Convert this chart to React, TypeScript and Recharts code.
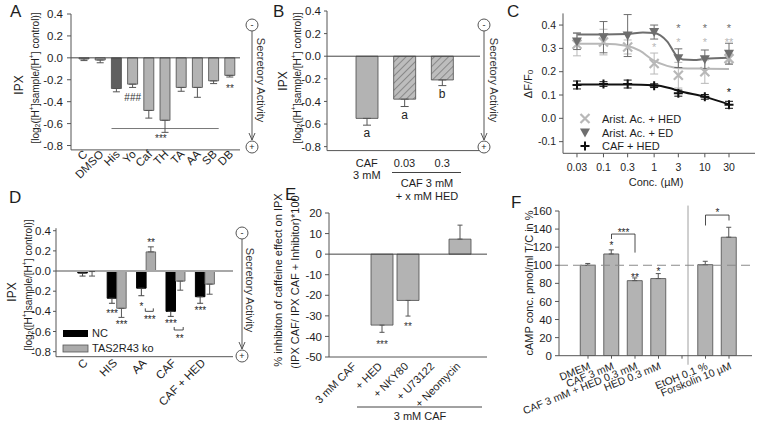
import React from 'react'
import {
  BarChart, Bar, XAxis, YAxis, ErrorBar, ReferenceLine, ReferenceDot, Cell,
  ComposedChart, Line, Scatter,
} from 'recharts'

const FONT = '"Liberation Sans", Arial, sans-serif'
const INK = '#1e1e1e'
const AXIS = '#555'
const BAR = '#b3b3b3'
const EDGE = '#4a4a4a'
const LIGHT = '#b8b8b8'
const DARK = '#6e6e6e'

// A: IPX of single bitter compounds
const aNames = ['C', 'DMSO', 'His', 'Yo', 'Caf', 'TH', 'TA', 'AA', 'SB', 'DB']
const aIpx = [-0.01, -0.02, -0.28, -0.24, -0.48, -0.57, -0.27, -0.27, -0.21, -0.16]
const aSem = [0.015, 0.025, 0.03, 0.03, 0.07, 0.11, 0.035, 0.09, 0.025, 0.015]

// B: caffeine +/- homoeriodictyol
const bNames = ['CAF', '0.03', '0.3']
const bSub = ['3 mM', '', '']
const bIpx = [-0.55, -0.38, -0.21]
const bSem = [0.06, 0.065, 0.05]
const bLetters = ['a', 'a', 'b']

// C: calcium imaging, dose response
const cConc = [0.03, 0.1, 0.3, 1, 3, 10, 30]
const cAaHed = [0.318, 0.327, 0.306, 0.235, 0.185, 0.2, 0.256]
const cAaHedSem = [0.05, 0.055, 0.03, 0.045, 0.055, 0.05, 0.02]
const cAaEd = [0.33, 0.348, 0.355, 0.37, 0.258, 0.253, 0.277]
const cAaEdSem = [0.035, 0.067, 0.09, 0.03, 0.04, 0.04, 0.045]
const cCafHed = [0.143, 0.147, 0.147, 0.14, 0.108, 0.092, 0.058]
const cCafHedSem = [0.017, 0.01, 0.017, 0.008, 0.013, 0.01, 0.015]
// fitted curves
const cFitAaHedX = [0.03, 0.1, 0.3, 0.52, 0.95, 1.8, 3.2, 10, 30]
const cFitAaHedY = [0.32, 0.32, 0.31, 0.29, 0.25, 0.225, 0.215, 0.213, 0.212]
const cFitAaEdX = [0.03, 0.1, 0.3, 0.6, 1, 1.8, 2.8, 3.7, 6, 10, 30]
const cFitAaEdY = [0.36, 0.36, 0.362, 0.368, 0.366, 0.33, 0.267, 0.252, 0.25, 0.255, 0.26]
const cFitCafX = [0.03, 0.3, 1, 2, 3, 10, 30]
const cFitCafY = [0.145, 0.145, 0.142, 0.13, 0.118, 0.092, 0.06]

// D: NC vs TAS2R43 knock-out
const dNames = ['C', 'HIS', 'AA', 'CAF', 'CAF + HED']
const dNc = [-0.02, -0.27, -0.17, -0.4, -0.255]
const dNcSem = [0.03, 0.05, 0.075, 0.05, 0.065]
const dKo = [-0.005, -0.37, 0.19, -0.1, -0.13]
const dKoSem = [0.045, 0.09, 0.05, 0.09, 0.1]

// E: inhibitors
const eNames = ['3 mM CAF', '+ HED', '+ NKY80', '+ U73122', '+ Neomycin']
const eInhib = [0, -34.5, -22.5, 0, 7.3]
const eSem = [5.7, 3.5, 7.6, 3.9, 6.8]

// F: cAMP
const fNames = ['DMEM', 'CAF 3 mM', 'CAF 3 mM + HED 0.3 mM', 'HED 0.3 mM', '', 'EtOH 0.1 %', 'Forskolin 10 µM']
const fCamp = [100, 112.5, 83, 85.3, null, 100.7, 131]
const fSem = [2, 4.5, 3, 5.5, null, 3.7, 11]

const ipxTicks = [-0.8, -0.6, -0.4, -0.2, 0, 0.2, 0.4]
const f1 = (v: number) => v.toFixed(1)
const oneSided = (v: number | null, e: number | null) =>
  v == null || e == null ? null : v < 0 ? [e, 0] : [0, e]

// text mark centred on a data point (category or number), optional pixel shift
function note(key: string, x: any, y: number, text: string, color = INK, size = 10, dx = 0) {
  const lift = text.includes('*') ? 0.6 : 0.36
  return (
    <ReferenceDot key={key} x={x} y={y} r={0} ifOverflow="visible"
      shape={(p: any) => (
        <text x={p.cx + dx} y={p.cy + lift * size} textAnchor="middle" fontSize={size} fill={color}>{text}</text>
      )} />
  )
}

function seg(key: string, x1: any, y1: number, x2: any, y2: number, color = INK, grow = 0, dx = 0) {
  return (
    <ReferenceLine key={key} segment={[{ x: x1, y: y1 }, { x: x2, y: y2 }]} ifOverflow="visible"
      shape={(p: any) => (
        <line x1={p.x1 - grow + dx} y1={p.y1} x2={p.x2 + grow + dx} y2={p.y2} stroke={color} strokeWidth={0.8} />
      )} />
  )
}

// small bracket under a pair of bars inside one group
function pairBracket(key: string, x: string, y: number, half: number, leg: number, dx = 0) {
  return (
    <ReferenceDot key={key} x={x} y={y} r={0} ifOverflow="visible"
      shape={(p: any) => (
        <path d={`M${p.cx + dx - half},${p.cy - leg}V${p.cy}H${p.cx + dx + half}V${p.cy - leg}`}
          stroke={INK} strokeWidth={0.8} fill="none" />
      )} />
  )
}

const slant = (angle: number, dx: number, dy: number, size: number) => (p: any) => (
  <text transform={`translate(${p.x + dx},${p.y + dy}) rotate(${angle})`} textAnchor="end"
    fontSize={size} fill={INK}>{p.payload.value}</text>
)

const yTick = (size: number) => ({ fontSize: size, fill: INK })

function PanelA() {
  const data = aNames.map((name, i) => ({ name, v: aIpx[i], err: oneSided(aIpx[i], aSem[i]) }))
  return (
    <BarChart width={250} height={205} data={data} margin={{ top: 14, right: 10, bottom: 0, left: 0 }} barSize={10}>
      <XAxis dataKey="name" interval={0} height={55.1} padding={{ left: 5, right: 2 }} axisLine={{ stroke: AXIS }}
        tickLine={false} tick={slant(-45, 4, -3, 11.5)} />
      <YAxis width={71} domain={[-0.84, 0.4]} ticks={ipxTicks} allowDataOverflow tickFormatter={f1}
        tick={yTick(11.5)} tickSize={4} tickMargin={4} axisLine={{ stroke: AXIS }} tickLine={{ stroke: AXIS }} />
      <ReferenceLine y={0} stroke="#444" />
      <Bar dataKey="v" isAnimationActive={false} stroke={EDGE} strokeWidth={0.8}>
        {data.map(d => <Cell key={d.name} fill={d.name === 'His' ? '#5f5f5f' : BAR} />)}
        <ErrorBar dataKey="err" width={3.5} stroke="#555" strokeWidth={1} />
      </Bar>
      {note('a1', 'Yo', -0.36, '###', '#333', 10)}
      {note('a2', 'DB', -0.255, '**', '#333', 10)}
      {seg('a3', 'His', -0.645, 'SB', -0.645, '#555', 5)}
      {note('a4', 'Caf', -0.71, '***', '#333', 10, 12)}
    </BarChart>
  )
}

function PanelB() {
  const data = bNames.map((name, i) => ({ name, v: bIpx[i], err: oneSided(bIpx[i], bSem[i]) }))
  const tick = (p: any) => (
    <text x={p.x} y={p.y + 8.5} textAnchor="middle" fontSize={11} fill={INK}>
      <tspan x={p.x}>{p.payload.value}</tspan>
      {bSub[p.index] ? <tspan x={p.x} dy={12}>{bSub[p.index]}</tspan> : null}
    </text>
  )
  return (
    <BarChart width={250} height={205} data={data} margin={{ top: 11, right: 20, bottom: 0, left: 0 }} barSize={22}>
      <defs>
        <pattern id="hatch" patternUnits="userSpaceOnUse" width="5" height="5" patternTransform="rotate(45)">
          <rect width="5" height="5" fill="#bdbdbd" />
          <line x1="0" y1="0" x2="0" y2="5" stroke="#555" strokeWidth="1" />
        </pattern>
      </defs>
      <XAxis dataKey="name" interval={0} height={54.4} padding={{ left: 21, right: 19 }} axisLine={{ stroke: AXIS }}
        tickLine={false} tick={tick} />
      <YAxis width={77} domain={[-0.835, 0.4]} ticks={ipxTicks} allowDataOverflow tickFormatter={f1}
        tick={yTick(11.5)} tickSize={3} tickMargin={3} axisLine={{ stroke: AXIS }} tickLine={{ stroke: AXIS }} />
      <ReferenceLine y={0} stroke="#444" />
      <Bar dataKey="v" isAnimationActive={false} stroke={EDGE} strokeWidth={0.8}>
        {data.map((d, i) => <Cell key={d.name} fill={i === 0 ? BAR : 'url(#hatch)'} />)}
        <ErrorBar dataKey="err" width={4} stroke="#555" strokeWidth={1} />
      </Bar>
      {bLetters.map((t, i) => note('b' + i, bNames[i], bIpx[i] - bSem[i] - 0.07, t, INK, 12))}
    </BarChart>
  )
}

const XMark = ({ cx, cy, c }: any) => (
  <path d={`M${cx - 4.5},${cy - 4.5}L${cx + 4.5},${cy + 4.5}M${cx - 4.5},${cy + 4.5}L${cx + 4.5},${cy - 4.5}`}
    stroke={c} strokeWidth={2.2} fill="none" />
)
const TriMark = ({ cx, cy, c }: any) => (
  <path d={`M${cx - 5},${cy - 4}L${cx + 5},${cy - 4}L${cx},${cy + 5}Z`} fill={c} />
)
const PlusMark = ({ cx, cy, c }: any) => (
  <path d={`M${cx - 4.5},${cy}H${cx + 4.5}M${cx},${cy - 4.5}V${cy + 4.5}`} stroke={c} strokeWidth={2} fill="none" />
)

function PanelC() {
  const pts = (ys: number[], es: number[]) => cConc.map((x, i) => ({ x, y: ys[i], e: es[i] }))
  const fit = (xs: number[], ys: number[]) => xs.map((x, i) => ({ x, y: ys[i] }))
  return (
    <ComposedChart width={257} height={205} margin={{ top: 13.4, right: 2, bottom: 0, left: 0 }}>
      <XAxis dataKey="x" type="number" scale="log" domain={[0.0159, 97.7]} allowDataOverflow ticks={cConc}
        tickFormatter={(v: number) => String(v)} height={51.7} interval={0}
        tick={yTick(10.5)} tickSize={4} tickMargin={6} axisLine={{ stroke: AXIS }} tickLine={{ stroke: AXIS }} />
      <YAxis type="number" domain={[-0.15, 0.45]} allowDataOverflow ticks={[-0.1, 0, 0.1, 0.2, 0.3, 0.4]}
        tickFormatter={f1} width={63} tick={yTick(10.5)} tickSize={4} tickMargin={3}
        axisLine={{ stroke: AXIS }} tickLine={{ stroke: AXIS }} />
      <Line data={fit(cFitAaHedX, cFitAaHedY)} dataKey="y" type="monotone" stroke={LIGHT} strokeWidth={2}
        dot={false} isAnimationActive={false} />
      <Line data={fit(cFitAaEdX, cFitAaEdY)} dataKey="y" type="monotone" stroke={DARK} strokeWidth={2}
        dot={false} isAnimationActive={false} />
      <Line data={fit(cFitCafX, cFitCafY)} dataKey="y" type="monotone" stroke="#111" strokeWidth={2}
        dot={false} isAnimationActive={false} />
      <Scatter data={pts(cAaHed, cAaHedSem)} dataKey="y" isAnimationActive={false}
        shape={(p: any) => <XMark cx={p.cx} cy={p.cy} c={LIGHT} />}>
        <ErrorBar dataKey="e" direction="y" width={4} stroke={LIGHT} strokeWidth={1} />
      </Scatter>
      <Scatter data={pts(cAaEd, cAaEdSem)} dataKey="y" isAnimationActive={false}
        shape={(p: any) => <TriMark cx={p.cx} cy={p.cy} c={DARK} />}>
        <ErrorBar dataKey="e" direction="y" width={4} stroke={DARK} strokeWidth={1} />
      </Scatter>
      <Scatter data={pts(cCafHed, cCafHedSem)} dataKey="y" isAnimationActive={false}
        shape={(p: any) => <PlusMark cx={p.cx} cy={p.cy} c="#111" />}>
        <ErrorBar dataKey="e" direction="y" width={4} stroke="#111" strokeWidth={1} />
      </Scatter>
      {note('c1', 1, 0.318, '*', LIGHT, 11)}
      {[3, 10, 30].map(x => note('cd' + x, x, 0.4, '*', DARK, 11))}
      {[3, 10].map(x => note('cl' + x, x, 0.337, '*', LIGHT, 11))}
      {note('cl30', 30, 0.337, '**', LIGHT, 11)}
      {note('cb30', 30, 0.122, '*', '#111', 11)}
    </ComposedChart>
  )
}

function PanelD() {
  const data = dNames.map((name, i) => ({
    name, nc: dNc[i], ko: dKo[i],
    ncErr: oneSided(dNc[i], dNcSem[i]), koErr: oneSided(dKo[i], dKoSem[i]),
  }))
  return (
    <BarChart width={250} height={217} data={data} margin={{ top: 23.2, right: 17, bottom: 0, left: 0 }}
      barSize={9.5} barGap={0}>
      <XAxis dataKey="name" interval={0} height={65.3} padding={{ left: 16.8, right: 13.2 }} axisLine={{ stroke: AXIS }}
        tickLine={false} tick={slant(-45, 1, -1, 11.5)} />
      <YAxis width={56} domain={[-0.85, 0.425]} ticks={ipxTicks} allowDataOverflow tickFormatter={f1}
        tick={yTick(11.5)} tickSize={3} tickMargin={2} axisLine={{ stroke: AXIS }} tickLine={{ stroke: AXIS }} />
      <ReferenceLine y={0} stroke="#a8a8a8" strokeWidth={2} />
      <Bar dataKey="nc" fill="#000" stroke="#000" isAnimationActive={false}>
        <ErrorBar dataKey="ncErr" width={3} stroke="#444" strokeWidth={1} />
      </Bar>
      <Bar dataKey="ko" fill="#ababab" stroke="#555" strokeWidth={0.8} isAnimationActive={false}>
        <ErrorBar dataKey="koErr" width={3} stroke="#555" strokeWidth={1} />
      </Bar>
      {note('d1', 'HIS', -0.4, '***', INK, 10, -4.75)}
      {note('d2', 'HIS', -0.51, '***', INK, 10, 4.75)}
      {note('d3', 'AA', -0.33, '*', INK, 10, -4.75)}
      {note('d4', 'AA', 0.31, '**', INK, 10, 4.75)}
      {pairBracket('d5', 'AA', -0.4, 4, 3, 3)}
      {note('d6', 'AA', -0.455, '***', INK, 10, 3.5)}
      {note('d7', 'CAF', -0.5, '***', INK, 10, -4.75)}
      {pairBracket('d8', 'CAF', -0.585, 4.5, 3, 3)}
      {note('d9', 'CAF', -0.64, '**', INK, 10, 4)}
      {note('d10', 'CAF + HED', -0.37, '***', INK, 10, -4.75)}
    </BarChart>
  )
}

function PanelE() {
  const data = eNames.map((name, i) => ({ name, v: eInhib[i], err: oneSided(eInhib[i], eSem[i]) }))
  return (
    <BarChart width={250} height={217} data={data} margin={{ top: 8, right: 13, bottom: 0, left: 0 }} barSize={22}>
      <XAxis dataKey="name" interval={0} height={65} padding={{ left: 14, right: 14 }} axisLine={{ stroke: AXIS }}
        tickLine={false} tick={slant(-45, 1, 2, 11)} />
      <YAxis width={79} domain={[-50, 20]} ticks={[-50, -40, -30, -20, -10, 0, 10, 20]} allowDataOverflow
        tick={yTick(11.5)} tickSize={4} tickMargin={3} axisLine={{ stroke: AXIS }} tickLine={{ stroke: AXIS }} />
      <ReferenceLine y={0} stroke="#444" />
      <Bar dataKey="v" fill={BAR} stroke={EDGE} strokeWidth={0.8} isAnimationActive={false}>
        <ErrorBar dataKey="err" width={2.5} stroke="#555" strokeWidth={1} />
      </Bar>
      {note('e1', '+ HED', -42.6, '***', '#333', 10)}
      {note('e2', '+ NKY80', -34.1, '**', '#333', 10)}
    </BarChart>
  )
}

function PanelF() {
  const data = fNames.map((name, i) => ({ name, v: fCamp[i], err: oneSided(fCamp[i], fSem[i]) }))
  const [dm, caf, cafHed, hed, gap, etoh, fsk] = fNames
  return (
    <BarChart width={257} height={217} data={data} margin={{ top: 6, right: 5, bottom: 0, left: 0 }} barSize={15}>
      <XAxis dataKey="name" interval={0} height={66.3} padding={{ left: 17.25, right: 11.25 }} axisLine={{ stroke: AXIS }}
        tickLine={{ stroke: AXIS }} tickSize={3} tick={slant(-22, 3, 8, 10.5)} />
      <YAxis width={59} domain={[0, 160]} ticks={[0, 20, 40, 60, 80, 100, 120, 140, 160]} allowDataOverflow
        tick={yTick(11.5)} tickSize={4} tickMargin={3} axisLine={{ stroke: AXIS }} tickLine={{ stroke: AXIS }} />
      <Bar dataKey="v" fill={BAR} stroke={EDGE} strokeWidth={0.8} isAnimationActive={false}>
        <ErrorBar dataKey="err" width={2.5} stroke="#555" strokeWidth={1} />
      </Bar>
      <ReferenceLine y={100} stroke="#8a8a8a" strokeDasharray="9 5" strokeWidth={1} />
      {seg('fsep', gap, 166, gap, -10, '#888', 0, 6)}
      {note('f1', caf, 125, '*')}
      {note('f2', cafHed, 89, '**')}
      {note('f3', hed, 96, '*')}
      {seg('f4h', caf, 134.5, cafHed, 134.5)}
      {seg('f4l', caf, 134.5, caf, 129)}
      {seg('f4r', cafHed, 134.5, cafHed, 114)}
      {note('f5', caf, 139.5, '***', INK, 10, 12)}
      {seg('f6h', etoh, 155.5, fsk, 155.5)}
      {seg('f6l', etoh, 155.5, etoh, 144)}
      {seg('f6r', fsk, 155.5, fsk, 149.5)}
      {note('f7', etoh, 161, '*', INK, 10, 12)}
      {dm ? null : null}
    </BarChart>
  )
}

const Pos = ({ l, t, children }: any) => (
  <div style={{ position: 'absolute', left: l, top: t }}>{children}</div>
)

function RotLabel({ x, y, size, children }: any) {
  return (
    <text transform={`translate(${x},${y}) rotate(-90)`} textAnchor="middle" dominantBaseline="central"
      fontSize={size} fill={INK}>{children}</text>
  )
}

function LogLabel({ x, y, size }: any) {
  const s = size * 0.7
  return (
    <RotLabel x={x} y={y} size={size}>
      [log<tspan fontSize={s} dy={2}>2</tspan><tspan dy={-2}>([H</tspan><tspan fontSize={s} dy={-4}>+</tspan>
      <tspan dy={4}>]sample/[H</tspan><tspan fontSize={s} dy={-4}>+</tspan><tspan dy={4}>] control)]</tspan>
    </RotLabel>
  )
}

function Secretory({ x, y1, y2, tx, ty }: any) {
  return (
    <g>
      <line x1={x} y1={y1 + 6} x2={x} y2={y2 - 7} stroke="#555" />
      <path d={`M${x - 3},${y2 - 14}L${x},${y2 - 7}L${x + 3},${y2 - 14}`} stroke="#555" fill="none" />
      <circle cx={x} cy={y1} r={6} fill="#fff" stroke="#555" />
      <circle cx={x} cy={y2} r={6} fill="#fff" stroke="#555" />
      <text x={x} y={y1 + 3} textAnchor="middle" fontSize={9} fill={INK}>-</text>
      <text x={x} y={y2 + 3} textAnchor="middle" fontSize={9} fill={INK}>+</text>
      <text transform={`translate(${tx},${ty}) rotate(90)`} textAnchor="middle" dominantBaseline="central"
        fontSize={11} fill="#333">Secretory Activity</text>
    </g>
  )
}

function Overlay() {
  const letter = { fontSize: 17, fill: INK }
  return (
    <svg width={757} height={422} style={{ position: 'absolute', left: 0, top: 0, pointerEvents: 'none' }}>
      <text x={10} y={17} {...letter}>A</text>
      <text x={273} y={17} {...letter}>B</text>
      <text x={507} y={17} {...letter}>C</text>
      <text x={9} y={203} {...letter}>D</text>
      <text x={285} y={200} {...letter}>E</text>
      <text x={511} y={208} {...letter}>F</text>

      <RotLabel x={19} y={85} size={12}>IPX</RotLabel>
      <LogLabel x={35} y={78} size={10} />
      <RotLabel x={283} y={81} size={12}>IPX</RotLabel>
      <LogLabel x={297} y={78} size={10} />
      <RotLabel x={12} y={292} size={12}>IPX</RotLabel>
      <LogLabel x={28} y={285} size={10} />
      <RotLabel x={278} y={280} size={11}>% inhibiton of caffeine effect on IPX</RotLabel>
      <RotLabel x={295} y={282} size={11}>(IPX CAF/ IPX CAF + Inhibitor)*100</RotLabel>
      <RotLabel x={529} y={283} size={11}>cAMP conc. pmol/ml T/C in %</RotLabel>
      <RotLabel x={528} y={84} size={11}>
        ΔF/F<tspan fontSize={8} dy={2}>0</tspan>
      </RotLabel>

      <Secretory x={252} y1={25} y2={147} tx={261} ty={80} />
      <Secretory x={484} y1={25} y2={147} tx={494} ty={80} />
      <Secretory x={242} y1={233} y2={356} tx={250} ty={290} />

      <line x1={392} y1={172.5} x2={461} y2={172.5} stroke="#444" />
      <text x={427} y={187} textAnchor="middle" fontSize={11} fill={INK}>CAF 3 mM</text>
      <text x={427} y={200} textAnchor="middle" fontSize={11} fill={INK}>+ x mM HED</text>

      <text x={656} y={186} textAnchor="middle" fontSize={11} fill={INK}>Conc. (µM)</text>
      <XMark cx={585} cy={118.5} c={LIGHT} />
      <TriMark cx={585} cy={132.5} c={DARK} />
      <PlusMark cx={585} cy={146} c="#111" />
      <text x={602} y={122.5} fontSize={11} fill={INK}>Arist. Ac. + HED</text>
      <text x={602} y={136.5} fontSize={11} fill={INK}>Arist. Ac. + ED</text>
      <text x={602} y={150} fontSize={11} fill={INK}>CAF + HED</text>

      <rect x={63} y={330} width={25} height={7} fill="#000" />
      <rect x={63} y={345} width={25} height={7} fill="#ababab" stroke="#555" strokeWidth={0.8} />
      <text x={92} y={337} fontSize={11} fill={INK}>NC</text>
      <text x={92} y={352} fontSize={11} fill={INK}>TAS2R43 ko</text>

      <line x1={357} y1={407} x2={482} y2={407} stroke="#444" />
      <text x={420} y={420} textAnchor="middle" fontSize={11} fill={INK}>3 mM CAF</text>
    </svg>
  )
}

export default function App() {
  return (
    <div style={{ position: 'absolute', left: 0, top: 0, width: 757, height: 422, background: '#fff',
      fontFamily: FONT, overflow: 'hidden' }}>
      <Pos l={0} t={0}><PanelA /></Pos>
      <Pos l={250} t={0}><PanelB /></Pos>
      <Pos l={500} t={0}><PanelC /></Pos>
      <Pos l={0} t={205}><PanelD /></Pos>
      <Pos l={250} t={205}><PanelE /></Pos>
      <Pos l={500} t={205}><PanelF /></Pos>
      <Overlay />
    </div>
  )
}
